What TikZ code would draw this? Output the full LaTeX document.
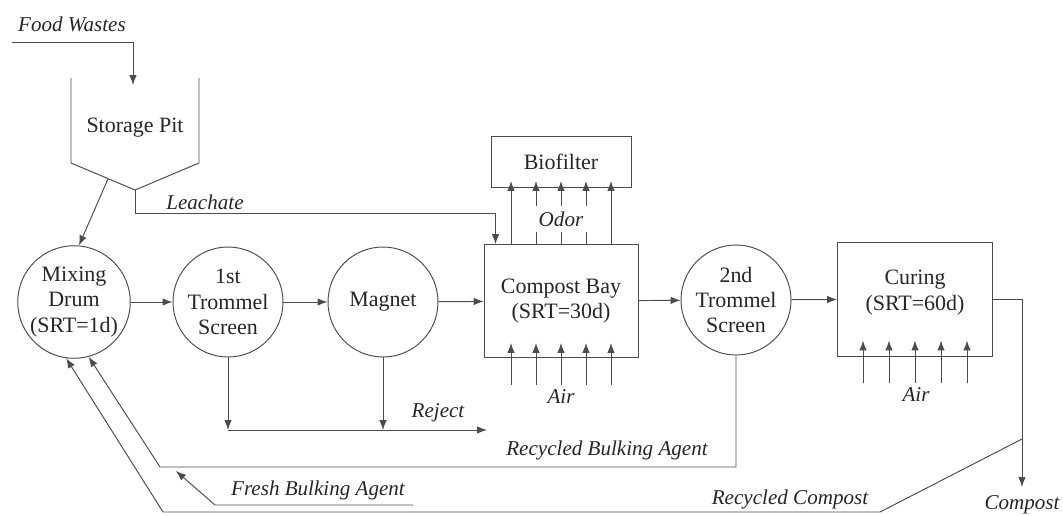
\documentclass[tikz,border=0pt]{standalone}
\usepackage{fontspec}
\setmainfont{Liberation Serif}
\usetikzlibrary{arrows.meta,positioning,calc}
\newcommand{\unitfont}{\fontsize{12.5}{14.5}\selectfont}
\newcommand{\streamfont}{\fontsize{12}{14}\selectfont\itshape}

\begin{document}
\begin{tikzpicture}[x=0.02cm,y=-0.02cm,line width=0.55pt,color=black!70,text=black!85,
    unit/.style={circle,draw,minimum size=2.2cm,inner sep=0,align=center,font=\unitfont},
    tank/.style={rectangle,draw,inner sep=0,align=center,font=\unitfont},
    flow/.style={-{Latex[length=2mm,width=1.5mm]}},
    lbl/.style={font=\streamfont,inner sep=1pt}]
  \useasboundingbox (0,0) rectangle (1063,515);

  % units
  \node[unit] (drum) at (74,302) {Mixing\\Drum\\(SRT=1d)};
  \node[unit] (trom1) at (228,302) {1st\\Trommel\\Screen};
  \node[unit] (magnet) at (383,302) {Magnet};
  \node[tank,minimum width=3.08cm,minimum height=2.26cm] (bay) at (561,301) {Compost Bay\\(SRT=30d)};
  \node[unit] (trom2) at (736,300) {2nd\\Trommel\\Screen};
  \node[tank,minimum width=3.1cm,minimum height=2.28cm,text depth=0.35cm] (curing) at (915,299) {Curing\\(SRT=60d)};
  \node[tank,minimum width=2.8cm,minimum height=1.02cm] (bio) at (561,162) {Biofilter};

  % storage pit
  \coordinate (pit-tl) at (71,78);
  \coordinate (pit-l) at (71,163);
  \coordinate (pit-bot) at (135,190);
  \coordinate (pit-r) at (199,163);
  \coordinate (pit-tr) at (199,78);
  \draw (pit-tl) -- (pit-l) -- (pit-bot) -- (pit-r) -- (pit-tr);
  \node[font=\unitfont] (pit) at (135,128) {Storage Pit};

  \coordinate (fw) at (12,42);
  \coordinate (pit-in) at (133,85);
  \draw[flow] (fw) -| (pit-in);
  \node[lbl] (fwl) at (72,24) {Food Wastes};

  \draw[flow] ($(pit-l)!0.58!(pit-bot)$) -- (drum.85);
  \draw[flow] (pit-bot) -- ++(0,23) -| ($(bay.north west)+(12,0)$);
  \node[lbl] (leach) at (205,202) {Leachate};

  % main line
  \draw[flow] (drum) -- (trom1);
  \draw[flow] (trom1) -- (magnet);
  \draw[flow] (magnet) -- (bay);
  \draw[flow] (bay) -- (trom2);
  \draw[flow] (trom2) -- (curing);

  % odor and air
  \foreach \dx in {-50,-25,0,25,50}
    \draw[flow] ($(bay.north)+(\dx,0)$) -- ($(bio.south)+(\dx,-7)$);
  \node[lbl,fill=white,minimum width=1.3cm,minimum height=0.52cm,inner sep=0] (odor) at (561,219) {Odor};
  \foreach \dx in {-50,-25,0,25,50}
    \draw[flow] ($(bay.south)+(\dx,27)$) -- ($(bay.south)+(\dx,-15)$);
  \node[lbl] (air1) at (561,397) {Air};
  \foreach \dx in {-52,-26,0,26,52}
    \draw[flow] ($(curing.south)+(\dx,27)$) -- ($(curing.south)+(\dx,-16)$);
  \node[lbl] (air2) at (916,395) {Air};

  % reject
  \coordinate (rej-y) at (0,430);
  \coordinate (rej-end) at (487,430);
  \draw[flow] (trom1) -- (trom1 |- rej-y);
  \draw[flow] (magnet) -- (magnet |- rej-y);
  \draw[flow] (trom1 |- rej-y) -- (rej-end);
  \node[lbl] (rej) at (438,413) {Reject};

  % recycle streams
  \coordinate (rba-y) at (0,467);
  \coordinate (rba-b) at (160,467);
  \draw[flow] (trom2) -- (trom2 |- rba-y) -- (rba-b) -- (drum.-75);
  \node[lbl] (rba) at (607,450) {Recycled Bulking Agent};

  \coordinate (fba-a) at (413,505);
  \coordinate (fba-b) at (215,505);
  \coordinate (fba-tip) at (176,471);
  \draw[flow] (fba-a) -- (fba-b) -- (fba-tip);
  \node[lbl] (fba) at (318,490) {Fresh Bulking Agent};

  \coordinate (cmp-end) at (1022,487);
  \draw[flow] (curing.east) -| (cmp-end);
  \node[lbl] (cmp) at (1022,505) {Compost};

  \coordinate (rc-split) at (1022,439);
  \coordinate (rc-a) at (880,512);
  \coordinate (rc-b) at (163,512);
  \draw[flow] (rc-split) -- (rc-a) -- (rc-b) -- (drum.-98);
  \node[lbl] (rc) at (790,499) {Recycled Compost};
\end{tikzpicture}
\end{document}
